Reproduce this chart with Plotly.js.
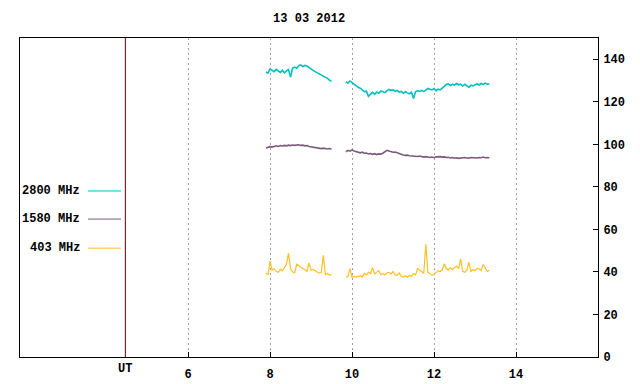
<!DOCTYPE html>
<html>
<head>
<meta charset="utf-8">
<script src="https://cdn.plot.ly/plotly-3.0.1.min.js"></script>
<style>html,body{margin:0;padding:0;background:#fff}#chart{width:640px;height:384px}</style>
</head>
<body>
<div id="chart"></div>
<script>
// Time sampling (UT hours)
var seg1Start = 7.90, seg1Count = 33;
var seg2Start = 9.85, seg2Count = 71;
var stepHours = 0.05;

// 2800 MHz
var f2800_seg1 = [134.0,133.5,135.5,135.0,134.2,135.3,134.6,133.8,134.8,133.6,
  134.5,135.2,131.6,135.9,136.3,135.8,137.0,137.4,136.6,137.1,
  136.8,136.0,135.6,134.8,134.2,133.7,133.0,132.8,132.2,131.6,
  131.0,130.2,129.6];
var f2800_seg2 = [129.5,128.8,129.8,129.0,128.5,127.6,126.8,126.4,125.6,124.8,
  125.0,122.6,123.6,124.4,123.5,124.6,124.0,125.0,124.8,124.3,
  125.1,125.8,125.4,125.6,124.9,125.3,124.6,124.9,124.0,124.7,
  124.2,123.8,124.5,121.5,124.8,125.2,124.9,125.4,124.8,125.8,
  126.3,125.9,125.6,126.2,125.2,125.9,125.6,126.4,127.2,128.1,
  128.4,127.6,128.3,127.9,128.6,128.0,128.3,127.4,128.2,127.6,
  126.9,127.8,127.5,128.0,128.4,127.9,128.6,128.2,128.8,128.3,128.5];

// 1580 MHz
var f1580_seg1 = [98.3,98.6,98.9,98.7,99.1,99.3,99.0,99.4,99.2,99.5,
  99.3,99.6,99.4,99.7,99.5,99.6,99.8,99.5,99.6,99.3,
  99.4,99.0,98.8,98.6,98.4,98.5,98.2,98.0,98.2,97.9,
  97.8,98.0,97.7];
var f1580_seg2 = [96.5,97.2,96.8,97.4,96.9,96.5,96.2,96.0,96.3,95.8,
  95.9,95.5,95.7,95.3,95.6,95.2,95.5,95.4,95.8,96.6,
  97.2,96.9,96.6,96.3,96.4,96.0,95.9,95.4,95.0,94.8,
  94.9,94.6,94.5,94.7,94.4,94.3,94.5,94.2,94.0,94.2,
  93.9,93.8,94.0,93.7,94.1,94.3,94.2,94.0,94.1,93.8,
  93.9,93.6,93.8,93.5,93.7,93.4,93.6,93.5,93.8,93.6,
  93.5,93.8,93.7,93.9,93.6,93.8,93.7,94.0,93.7,93.8,93.7];

// 403 MHz
var f403_seg1 = [39.5,38.6,45.2,40.8,41.5,40.2,39.8,41.3,40.5,42.3,
  43.6,48.8,41.6,40.0,39.6,43.6,42.8,42.2,41.6,41.0,
  40.3,44.3,40.8,41.2,40.4,40.0,39.5,39.8,47.8,38.8,
  39.3,38.5,38.7];
var f403_seg2 = [37.6,37.8,41.6,37.5,37.9,37.6,37.8,38.2,37.6,39.3,
  38.6,39.8,39.2,42.0,39.0,39.6,40.6,38.8,39.2,38.7,
  39.5,39.8,39.0,40.2,38.6,38.4,39.5,38.0,37.6,38.2,
  37.5,38.4,38.0,39.2,38.6,41.6,40.8,40.2,39.4,53.0,
  39.8,39.2,38.4,38.9,39.8,40.5,40.2,41.0,43.8,41.5,
  40.8,42.0,41.2,42.0,42.8,41.6,46.2,40.3,39.8,40.8,
  44.6,40.2,41.0,40.6,41.8,41.4,40.8,43.5,41.6,40.2,40.8];

var seriesNames = ["2800 MHz","1580 MHz","403 MHz"];
var seriesColors = ["#00c0c0","#7c5a7c","#ffc020"];
var tickVals = [6,8,10,12,14];
var tickText = ["6","8","10","12","14"];
var yTickVals = [0,20,40,60,80,100,120,140];
var utPosition = 4.47;
var titleText = "13 03 2012";

function times(start, n){ var t=[]; for(var i=0;i<n;i++){ t.push(+(start+i*stepHours).toFixed(3)); } return t; }
var xs = times(seg1Start, seg1Count).concat([null]).concat(times(seg2Start, seg2Count));
function join(a,b){ return a.concat([null]).concat(b); }
var ys = [join(f2800_seg1,f2800_seg2), join(f1580_seg1,f1580_seg2), join(f403_seg1,f403_seg2)];

var FONT = "Liberation Mono, DejaVu Sans Mono, monospace";
var traces = ys.map(function(y,i){
  return {x: xs, y: y, type:"scatter", mode:"lines", name: seriesNames[i],
    line:{color: seriesColors[i], width:(i<2?1.6:1.2)}, connectgaps:false, showlegend:false, hoverinfo:"skip"};
});
var annotations = [{xref:"x", yref:"paper", x:utPosition, y:0, yshift:-12, yanchor:"middle", text:"<b>UT</b>", showarrow:false,
  font:{family:FONT,size:12,color:"#000"}, xanchor:"center"}];
var shapes = [{type:"line", xref:"x", yref:"paper", x0:utPosition, x1:utPosition, y0:0, y1:1,
  line:{color:"#600000", width:1}}];
var legendY = [190.5, 218.5, 247.5];
seriesNames.forEach(function(n,i){
  var py = 1 - (legendY[i]-38)/318;
  annotations.push({xref:"paper", yref:"paper", x:(82-20)/578, y:py, text:"<b>"+n+"</b>", showarrow:false,
    xanchor:"right", yanchor:"middle", font:{family:FONT,size:12,color:"#000"}});
  shapes.push({type:"line", xref:"paper", yref:"paper", x0:(88-20)/578, x1:(121-20)/578, y0:py, y1:py,
    line:{color:seriesColors[i], width:1}});
});

var layout = {
  width:640, height:384,
  margin:{l:20, r:42, t:38, b:27, pad:0},
  paper_bgcolor:"#fff", plot_bgcolor:"#fff",
  title:{text:"<b>"+titleText+"</b>", font:{family:FONT,size:12,color:"#000"}, x:0.483, xanchor:"center", y:0.953, yanchor:"middle"},
  showlegend:false,
  xaxis:{range:[1.9,16], tickvals:tickVals, ticktext:tickText.map(function(t){return "<b>"+t+"</b>";}),
    ticks:"inside", ticklen:5, tickcolor:"#000", showgrid:true, gridcolor:"#a0a0a0", griddash:"2px,3px", gridwidth:1,
    showline:true, linecolor:"#000", linewidth:1, mirror:true, zeroline:false, ticklabelstandoff:6,
    tickfont:{family:FONT,size:12,color:"#000"}},
  yaxis:{range:[0,150], side:"right", tickvals:yTickVals, ticktext:yTickVals.map(function(t){return "<b>"+t+"</b>";}),
    ticks:"inside", ticklen:5, tickcolor:"#000", showgrid:false, showline:true, linecolor:"#000", linewidth:1,
    mirror:true, zeroline:false, tickfont:{family:FONT,size:12,color:"#000"}, ticklabelstandoff:2},
  annotations:annotations, shapes:shapes
};
Plotly.newPlot("chart", traces, layout, {staticPlot:true, displayModeBar:false});
</script>
</body>
</html>
